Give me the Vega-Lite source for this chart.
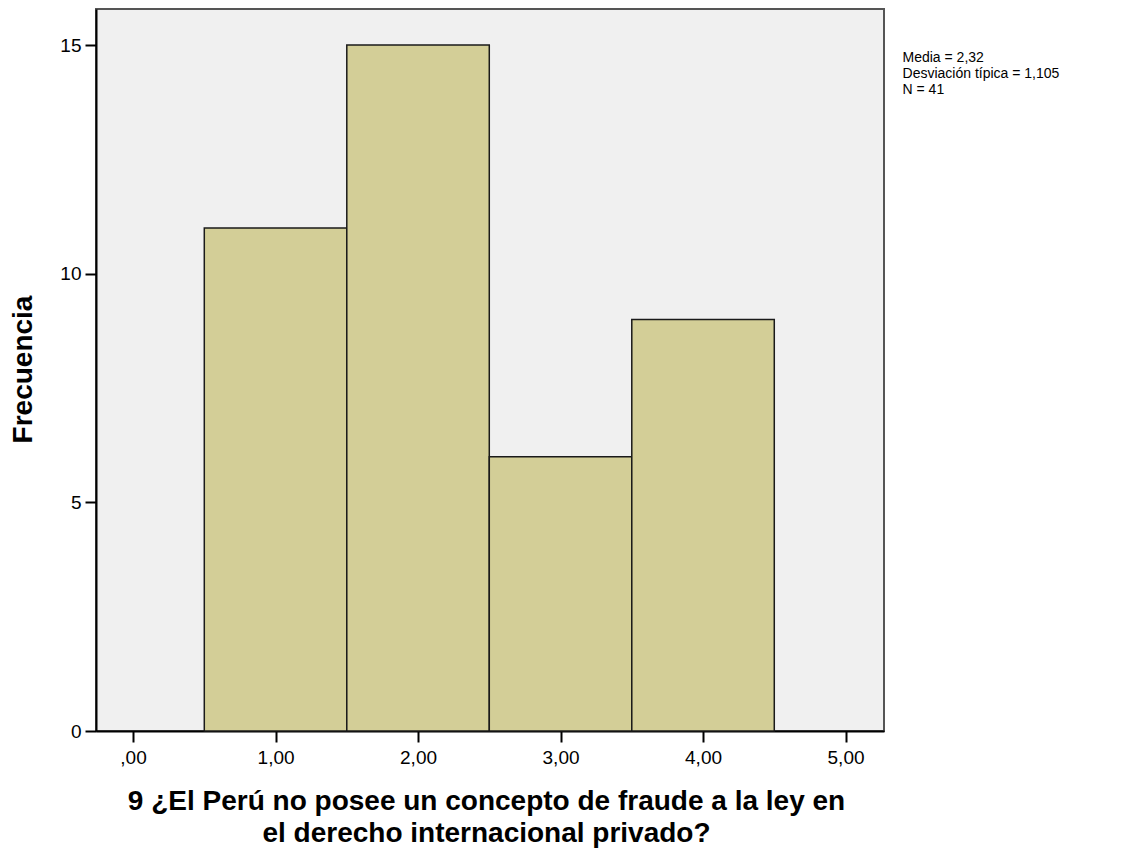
{
  "$schema": "https://vega.github.io/schema/vega-lite/v6.json",
  "width": 788,
  "height": 722,
  "autosize": "none",
  "padding": {"left": 96, "top": 9, "right": 251, "bottom": 117},
  "background": "white",
  "title": {"text": "Histograma", "anchor": "middle", "offset": 10, "baseline": "alphabetic", "fontSize": 28, "fontWeight": "bold", "color": "#000000"},
  "config": {
    "font": "Liberation Sans",
    "view": {"fill": "#F0F0F0", "stroke": "#555555", "strokeWidth": 2}
  },
  "datasets": {
    "bins": [
      {"desde": 0.5, "hasta": 1.5, "frecuencia": 11},
      {"desde": 1.5, "hasta": 2.5, "frecuencia": 15},
      {"desde": 2.5, "hasta": 3.5, "frecuencia": 6},
      {"desde": 3.5, "hasta": 4.5, "frecuencia": 9}
    ],
    "stats": [
      {"x": 5.4, "y": 14.87, "texto": "Media = 2,32\nDesviación típica = 1,105\nN = 41"}
    ]
  },
  "layer": [
    {
      "data": {"name": "bins"},
      "mark": {"type": "rect", "fill": "#D3CE97", "stroke": "#1a1a1a", "strokeWidth": 1.5},
      "encoding": {
        "x": {
          "field": "desde", "type": "quantitative",
          "scale": {"domain": [-0.26, 5.27], "nice": false, "zero": false},
          "axis": {
            "values": [0, 1, 2, 3, 4, 5],
            "labelExpr": "datum.value == 0 ? ',00' : replace(format(datum.value, '.2f'), '.', ',')",
            "grid": false,
            "domainColor": "#000000",
            "domainWidth": 2,
            "tickColor": "#000000",
            "tickWidth": 2,
            "tickSize": 11,
            "labelFontSize": 19,
            "labelColor": "#000000",
            "labelPadding": 6,
            "title": ["9 ¿El Perú no posee un concepto de fraude a la ley en", "el derecho internacional privado?"],
            "titleFontSize": 28,
            "titleFontWeight": "bold",
            "titleColor": "#000000",
            "titleLineHeight": 32,
            "titleBaseline": "top",
            "titleY": 56,
            "titleX": 390
          }
        },
        "x2": {"field": "hasta"},
        "y": {
          "field": "frecuencia", "type": "quantitative",
          "scale": {"domain": [0, 15.79], "nice": false},
          "axis": {
            "values": [0, 5, 10, 15],
            "grid": false,
            "domainColor": "#000000",
            "domainWidth": 2,
            "tickColor": "#000000",
            "tickWidth": 2,
            "tickSize": 11,
            "labelFontSize": 19,
            "labelColor": "#000000",
            "labelPadding": 4,
            "title": "Frecuencia",
            "titleFontSize": 28,
            "titleFontWeight": "bold",
            "titleColor": "#000000",
            "titleAngle": -90,
            "titleBaseline": "middle",
            "titleX": -73,
            "titleY": 360
          }
        },
        "y2": {"datum": 0}
      }
    },
    {
      "data": {"name": "stats"},
      "mark": {"type": "text", "align": "left", "baseline": "top", "fontSize": 14, "lineHeight": 16, "color": "#000000", "lineBreak": "\n", "clip": false},
      "encoding": {
        "x": {"field": "x", "type": "quantitative"},
        "y": {"field": "y", "type": "quantitative"},
        "text": {"field": "texto"}
      }
    }
  ]
}
